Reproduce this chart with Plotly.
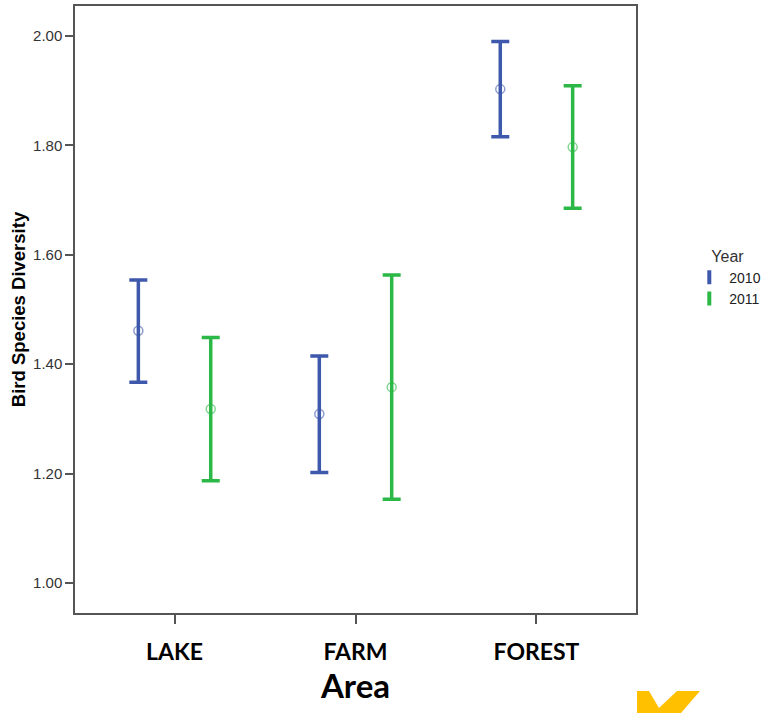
import plotly.graph_objects as go

# Mean bird species diversity with 95% CI, by area and year
areas = ["LAKE", "FARM", "FOREST"]
years = ["2010", "2011"]

mean_2010 = [1.461, 1.309, 1.903]
upper_2010 = [1.554, 1.415, 1.990]
lower_2010 = [1.367, 1.202, 1.816]

mean_2011 = [1.318, 1.358, 1.797]
upper_2011 = [1.449, 1.563, 1.909]
lower_2011 = [1.187, 1.153, 1.685]

y_ticks = [1.00, 1.20, 1.40, 1.60, 1.80, 2.00]

colors = {"2010": "rgb(62,88,172)", "2011": "rgb(43,184,70)"}

series = {
    "2010": (mean_2010, upper_2010, lower_2010),
    "2011": (mean_2011, upper_2011, lower_2011),
}

fig = go.Figure()
for yr in years:
    m, hi, lo = series[yr]
    c = colors[yr]
    fig.add_trace(go.Scatter(
        x=areas, y=m, mode="markers", name=yr,
        offsetgroup=yr, showlegend=False,
        marker=dict(symbol="circle-open", size=9, color=c, opacity=0.6,
                    line=dict(width=1.5, color=c)),
        error_y=dict(type="data", symmetric=False,
                     array=[h - v for h, v in zip(hi, m)],
                     arrayminus=[v - l for v, l in zip(m, lo)],
                     color=c, thickness=3.5, width=9),
    ))

# legend entries drawn as small vertical bars
for yr in years:
    fig.add_trace(go.Scatter(
        x=[None], y=[None], mode="markers", name=yr,
        marker=dict(symbol="line-ns-open", size=10, color=colors[yr],
                    line=dict(width=4, color=colors[yr])),
    ))

axis_line = "#555555"

fig.update_layout(
    width=766, height=713,
    margin=dict(l=75, r=130, t=6, b=100, autoexpand=False),
    paper_bgcolor="white", plot_bgcolor="white",
    scattermode="group", scattergap=0.2,
    font=dict(family="Arial, Liberation Sans, sans-serif", color="#333333"),
    legend=dict(
        x=1.095, y=0.613, xanchor="left", yanchor="top",
        title=dict(text="Year", side="top center",
                   font=dict(size=16, color="#333333")),
        font=dict(size=14, color="#222222"),
        itemwidth=30, tracegroupgap=0,
    ),
    xaxis=dict(
        type="category", categoryorder="array", categoryarray=areas,
        range=[-0.55, 2.55],
        showline=True, linecolor=axis_line, linewidth=1.5, mirror=True,
        ticks="outside", ticklen=9, tickwidth=1.5, tickcolor=axis_line,
        ticklabelstandoff=9,
        tickfont=dict(family="Lato, Open Sans, sans-serif", size=23,
                      color="black", weight="bold"),
        showgrid=False, zeroline=False,
        title=dict(text="Area", standoff=10,
                   font=dict(family="Lato, Open Sans, sans-serif", size=33,
                             color="black", weight="bold")),
    ),
    yaxis=dict(
        range=[0.945, 2.055],
        tickvals=y_ticks, ticktext=[f"{v:.2f}" for v in y_ticks],
        showline=True, linecolor=axis_line, linewidth=1.5, mirror=True,
        ticks="outside", ticklen=8, tickwidth=1.5, tickcolor=axis_line,
        tickfont=dict(size=15, color="#333333"),
        showgrid=False, zeroline=False,
        title=dict(text="Bird Species Diversity", standoff=3,
                   font=dict(size=18.5, color="black", weight="bold")),
    ),
)

# yellow chevron mark in the lower-right corner
W, H = 561.0, 607.0
def px(xp, yp):
    return (xp - 75) / W, (613 - yp) / H

pts = [(637, 691), (649, 691), (659, 708), (677, 691), (700, 691), (681, 713), (637, 713)]
path = "M " + " L ".join(f"{px(a, b)[0]:.4f},{px(a, b)[1]:.4f}" for a, b in pts) + " Z"
fig.add_shape(type="path", path=path, xref="paper", yref="paper",
              fillcolor="#FFC000", line=dict(width=0), layer="above")

fig.write_html("out.html")
